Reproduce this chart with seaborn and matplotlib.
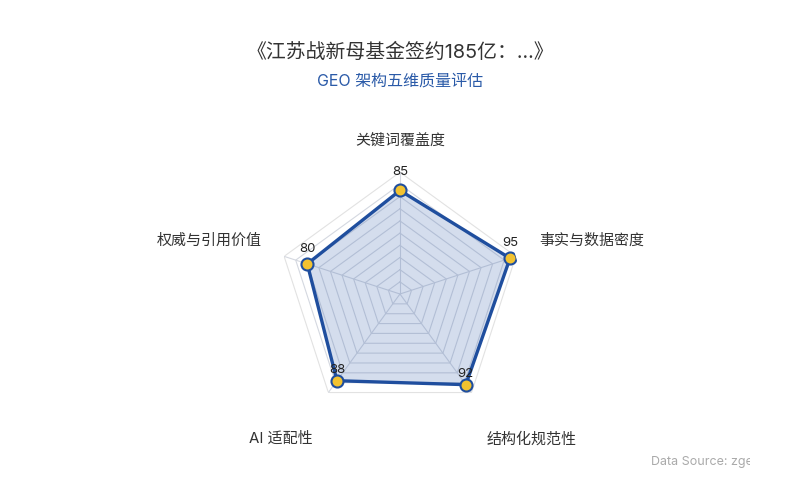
import numpy as np
import pandas as pd
import matplotlib
matplotlib.use('Agg')
import matplotlib.pyplot as plt
import seaborn as sns

# Dữ liệu
categories = ['关键词覆盖度', '事实与数据密度', '结构化规范性', 'AI 适配性', '权威与引用价值']
scores = [85, 95, 92, 88, 80]
ring_levels = [10, 20, 30, 40, 50, 60, 70, 80, 90, 100]
title_text = '《江苏战新母基金签约185亿：...》'
subtitle_text = 'GEO 架构五维质量评估'
source_text = 'Data Source: zgeo'

sns.set_theme(style='white')
plt.rcParams['font.family'] = ['Inter', 'Noto Sans CJK SC', 'DejaVu Sans']
plt.rcParams['axes.unicode_minus'] = False

LINE = '#1f4e9e'
FILL = '#3d66b0'
DOT = '#f2c230'

n = len(categories)
theta = np.linspace(0, 2 * np.pi, n, endpoint=False)

fig = plt.figure(figsize=(8, 5), dpi=100)
ax = fig.add_axes([0.5 - 0.1523, 0.412 - 0.2436, 0.3045, 0.4872], projection='polar')
ax.set_theta_offset(np.pi / 2)
ax.set_theta_direction(-1)
ax.set_ylim(0, 100)
ax.grid(False)
ax.spines['polar'].set_visible(False)
ax.set_xticks([])
ax.set_yticks([])
ax.set_facecolor('none')

# Lưới đa giác
closed_t = np.append(theta, theta[0])
for lv in ring_levels:
    col = '#e2e2e2' if lv == 100 else '#d4d8e0'
    ax.plot(closed_t, [lv] * (n + 1), color=col, lw=0.8, zorder=1)
for t in theta:
    ax.plot([t, t], [0, 100], color='#d4d8e0', lw=0.8, zorder=1)

# Vùng dữ liệu
df = pd.DataFrame({'theta': closed_t, 'score': scores + scores[:1]})
ax.fill(df['theta'], df['score'], color=FILL, alpha=0.22, zorder=2, lw=0)
sns.lineplot(data=df, x='theta', y='score', ax=ax, sort=False, estimator=None,
             color=LINE, lw=2.4, zorder=3)
ax.scatter(theta, scores, s=75, color=DOT, edgecolor=LINE, linewidth=1.5, zorder=4)
ax.set_xlabel('')
ax.set_ylabel('')

# Nhãn giá trị
for t, v in zip(theta, scores):
    off = (14 + 4 * np.cos(t)) * 0.72
    ax.annotate(str(v), xy=(t, v), xytext=(0, off), textcoords='offset points',
                ha='center', va='center', fontsize=9.5, color='#222222', zorder=5)

# Nhãn trục
label_pos = [((0, 23), 'center'), ((17, 11), 'left'), ((11, -34), 'left'),
             ((-11, -33), 'right'), ((-16, 11), 'right')]
for t, name, (off, ha) in zip(theta, categories, label_pos):
    ax.annotate(name, xy=(t, 100), xytext=off, textcoords='offset points',
                ha=ha, va='center', fontsize=10.8, color='#333333')

fig.text(0.5, 1 - 52 / 500, title_text, ha='center', va='center', fontsize=14.3, color='#333333')
fig.text(0.5, 1 - 81 / 500, subtitle_text, ha='center', va='center', fontsize=11.5, color='#2a5aa8')

src = fig.text(651 / 800, 1 - 462 / 500, source_text, ha='left', va='center', fontsize=9, color='#aaaaaa')
clip = plt.Rectangle((0, 0), 750 / 800, 1, transform=fig.transFigure, facecolor='none')
src.set_clip_path(clip)

fig.savefig('out.png', dpi=100)
